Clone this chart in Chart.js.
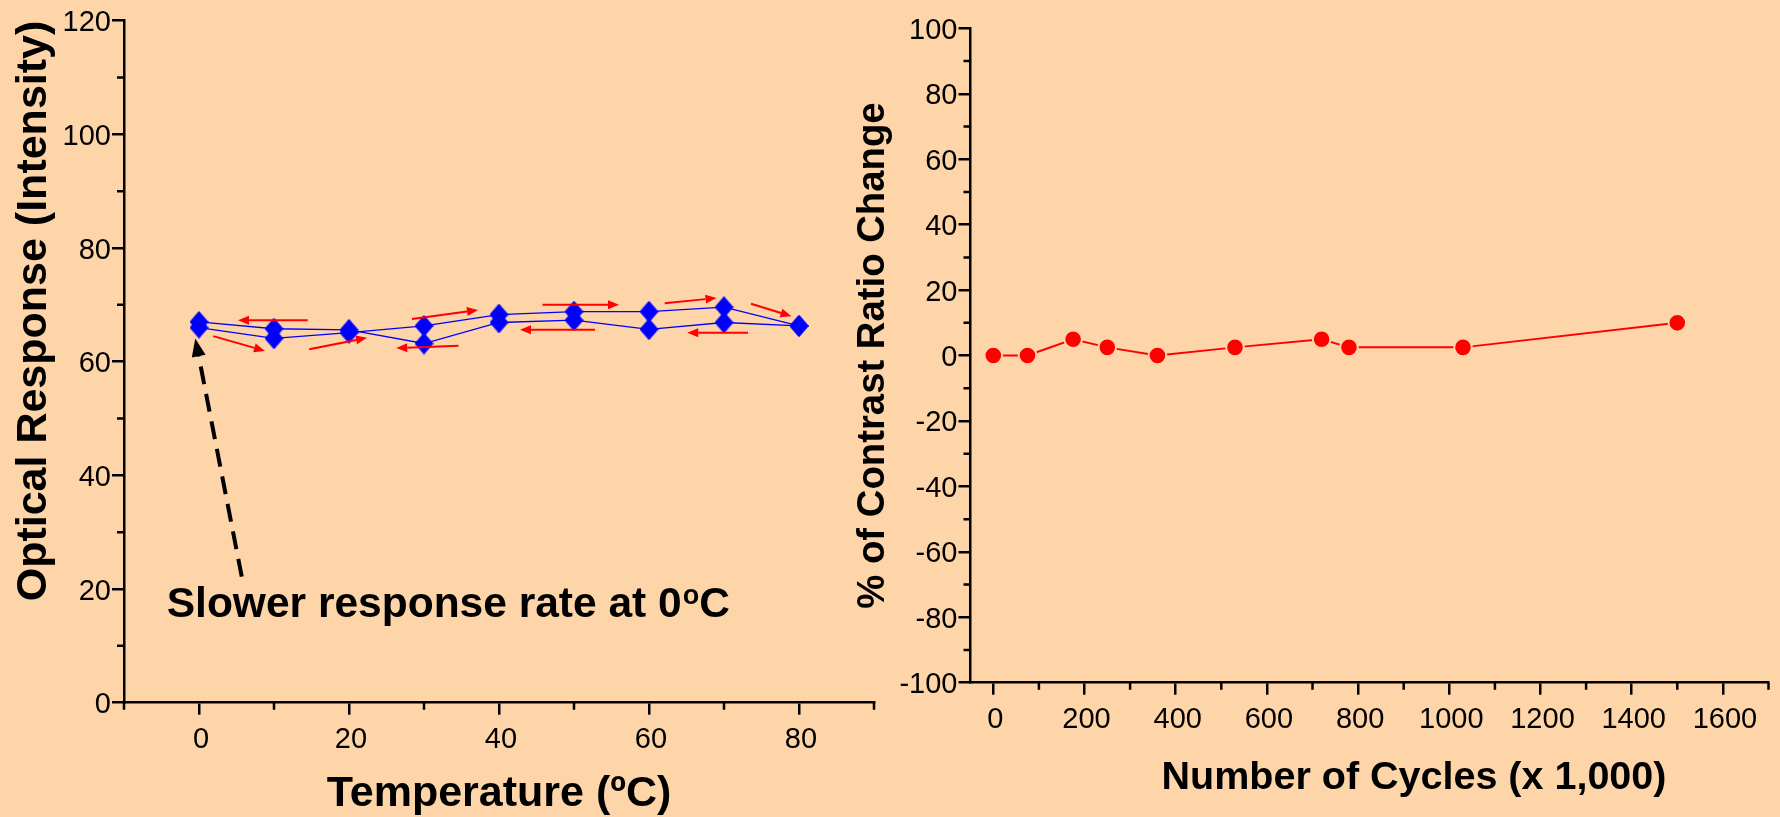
<!DOCTYPE html>
<html>
<head>
<meta charset="utf-8">
<script src="https://cdn.jsdelivr.net/npm/chart.js@4.4.0/dist/chart.umd.min.js"></script>
<style>
  html, body { margin: 0; padding: 0; background: #fed5a9; }
  body { width: 1780px; height: 817px; position: relative; overflow: hidden; }
  #tempChart { position: absolute; left: 0; top: 0; }
  #cycleChart { position: absolute; left: 850px; top: 0; }
</style>
</head>
<body>
<canvas id="tempChart" width="890" height="817"></canvas>
<canvas id="cycleChart" width="930" height="817"></canvas>
<script>
// left chart: optical response vs temperature
var temperatures = [0, 10, 20, 30, 40, 50, 60, 70, 80];
var heatingResponse = [66.0, 64.1, 65.1, 66.3, 68.3, 68.8, 68.8, 69.6, 66.3];
var coolingResponse = [67.0, 65.8, 65.6, 63.2, 66.9, 67.3, 65.7, 66.9, 66.3];
var tempTicks = [0, 20, 40, 60, 80];
var tempMinor = [-10, 10, 30, 50, 70, 90];
var responseMinor = [10, 30, 50, 70, 90, 110];

// red direction arrows, [x1, y1, x2, y2] in data units
var dirArrows = [
  [14.5, 67.3, 5.2, 67.3],
  [1.9, 64.5, 8.8, 61.9],
  [14.7, 62.2, 22.4, 64.2],
  [28.4, 67.5, 37.2, 69.1],
  [34.6, 62.8, 26.3, 62.4],
  [45.8, 70.0, 56.0, 70.0],
  [52.8, 65.6, 42.8, 65.6],
  [62.1, 70.3, 69.0, 71.2],
  [73.2, 65.1, 65.1, 65.1],
  [73.6, 70.2, 79.0, 68.0]
];
var noteArrow = [5.7, 22.2, -0.5, 64.1];
var notePos = [-4.3, 15.1];

// right chart: contrast ratio change vs cycles
var cycles = [0, 75, 175, 250, 360, 530, 720, 780, 1030, 1500];
var contrastChange = [0, 0, 5, 2.5, 0, 2.5, 5, 2.5, 2.5, 10];
var cycleTicks = [0, 200, 400, 600, 800, 1000, 1200, 1400, 1600];
var cycleMinor = [100, 300, 500, 700, 900, 1100, 1300, 1500, 1700];
var contrastMinor = [-90, -70, -50, -30, -10, 10, 30, 50, 70, 90];

var bg = '#fed5a9';
var fam = "'Liberation Sans', Arial, sans-serif";
Chart.defaults.font.family = fam;
Chart.defaults.color = '#000';

function pts(xs, ys) {
  return xs.map(function (x, i) { return {x: x, y: ys[i]}; });
}

function diamond(w, h, color) {
  var c = document.createElement('canvas');
  c.width = w; c.height = h;
  var g = c.getContext('2d');
  g.fillStyle = color;
  g.beginPath();
  g.moveTo(w / 2, 0); g.lineTo(w, h / 2); g.lineTo(w / 2, h); g.lineTo(0, h / 2);
  g.closePath(); g.fill();
  return c;
}

function arrowHead(ctx, x1, y1, x2, y2, len, half) {
  var a = Math.atan2(y2 - y1, x2 - x1);
  var bx = x2 - len * Math.cos(a), by = y2 - len * Math.sin(a);
  ctx.beginPath();
  ctx.moveTo(x2, y2);
  ctx.lineTo(bx + half * Math.sin(a), by - half * Math.cos(a));
  ctx.lineTo(bx - half * Math.sin(a), by + half * Math.cos(a));
  ctx.closePath();
  ctx.fill();
  return [bx, by];
}

var minorTicks = {
  id: 'minorTicks',
  afterDraw: function (chart, args, opts) {
    var ctx = chart.ctx, xs = chart.scales.x, ys = chart.scales.y;
    ctx.save();
    ctx.strokeStyle = '#000';
    ctx.lineWidth = 2.5;
    ctx.beginPath();
    opts.x.forEach(function (v) {
      var px = xs.getPixelForValue(v);
      ctx.moveTo(px, ys.bottom); ctx.lineTo(px, ys.bottom + 7);
    });
    opts.y.forEach(function (v) {
      var py = ys.getPixelForValue(v);
      ctx.moveTo(xs.left, py); ctx.lineTo(xs.left - 7, py);
    });
    ctx.stroke();
    ctx.restore();
  }
};

// x title drawn off-centre like the original
var shiftedTitle = {
  id: 'shiftedTitle',
  afterDraw: function (chart, args, opts) {
    if (!opts.text) return;
    var ctx = chart.ctx, xs = chart.scales.x;
    ctx.save();
    ctx.font = 'bold ' + opts.size + 'px ' + fam;
    ctx.fillStyle = '#000';
    ctx.textAlign = 'center';
    ctx.textBaseline = 'middle';
    ctx.fillText(opts.text, (xs.left + xs.right) / 2 + opts.dx, xs.bottom - opts.up);
    ctx.restore();
  }
};

var notes = {
  id: 'notes',
  afterDatasetsDraw: function (chart) {
    var ctx = chart.ctx, xs = chart.scales.x, ys = chart.scales.y;
    ctx.save();
    // red arrows
    ctx.strokeStyle = '#ff0000';
    ctx.fillStyle = '#ff0000';
    ctx.lineWidth = 2;
    dirArrows.forEach(function (a) {
      var x1 = xs.getPixelForValue(a[0]), y1 = ys.getPixelForValue(a[1]);
      var x2 = xs.getPixelForValue(a[2]), y2 = ys.getPixelForValue(a[3]);
      var b = arrowHead(ctx, x1, y1, x2, y2, 11, 4.5);
      ctx.beginPath(); ctx.moveTo(x1, y1); ctx.lineTo(b[0], b[1]); ctx.stroke();
    });
    // dashed black arrow
    var tx = xs.getPixelForValue(noteArrow[0]), ty = ys.getPixelForValue(noteArrow[1]);
    var hx = xs.getPixelForValue(noteArrow[2]), hy = ys.getPixelForValue(noteArrow[3]);
    ctx.fillStyle = '#000';
    ctx.strokeStyle = '#000';
    var b = arrowHead(ctx, tx, ty, hx, hy, 18, 7);
    ctx.lineWidth = 4;
    ctx.setLineDash([18, 10]);
    ctx.beginPath(); ctx.moveTo(tx, ty); ctx.lineTo(b[0], b[1]); ctx.stroke();
    ctx.setLineDash([]);
    // note text with superscript o
    var nx = xs.getPixelForValue(notePos[0]), ny = ys.getPixelForValue(notePos[1]);
    ctx.textBaseline = 'alphabetic';
    ctx.textAlign = 'left';
    ctx.font = 'bold 42.5px ' + fam;
    var main = 'Slower response rate at 0';
    ctx.fillText(main, nx, ny);
    nx += ctx.measureText(main).width;
    ctx.font = 'bold 27px ' + fam;
    ctx.fillText('o', nx + 1, ny - 13);
    nx += ctx.measureText('o').width + 1;
    ctx.font = 'bold 42.5px ' + fam;
    ctx.fillText('C', nx, ny);
    ctx.restore();
  }
};

var tickFont = {size: 29};
var axisBorder = {color: '#000', width: 2.5};
var axisGrid = {drawOnChartArea: false, tickLength: 12, color: '#000', lineWidth: 2.5};

new Chart(document.getElementById('tempChart'), {
  type: 'scatter',
  data: {
    datasets: [{
      label: 'Heating',
      data: pts(temperatures, heatingResponse),
      showLine: true,
      borderColor: '#0000ff',
      borderWidth: 1.3,
      pointStyle: diamond(19, 22, '#0000ff'),
      pointRadius: 10
    }, {
      label: 'Cooling',
      data: pts(temperatures, coolingResponse),
      showLine: true,
      borderColor: '#0000ff',
      borderWidth: 1.3,
      pointStyle: diamond(19, 22, '#0000ff'),
      pointRadius: 10
    }]
  },
  options: {
    responsive: false,
    animation: false,
    layout: {padding: {top: 20.7, right: 16, left: 0, bottom: 0}},
    plugins: {
      legend: {display: false},
      tooltip: {enabled: false},
      minorTicks: {x: tempMinor, y: responseMinor}
    },
    scales: {
      x: {
        type: 'linear', min: -10, max: 90,
        afterBuildTicks: function (s) { s.ticks = tempTicks.map(function (v) { return {value: v}; }); },
        afterFit: function (s) { s.height = 114.3; },
        border: axisBorder,
        grid: axisGrid,
        ticks: {font: tickFont, padding: 8, maxRotation: 0, autoSkip: false, labelOffset: 2},
        title: {display: true, text: 'Temperature (ºC)', font: {size: 43, weight: 'bold', lineHeight: 1}, padding: {top: 0, bottom: 1}}
      },
      y: {
        min: 0, max: 120,
        afterFit: function (s) { s.width = 124; },
        border: axisBorder,
        grid: axisGrid,
        ticks: {stepSize: 20, font: tickFont, padding: 1, labelOffset: 2.5},
        title: {display: true, text: 'Optical Response (Intensity)', align: 'end', font: {size: 43, weight: 'bold', lineHeight: 1}, padding: {top: 12.5, bottom: 0}}
      }
    }
  },
  plugins: [minorTicks, notes]
});

new Chart(document.getElementById('cycleChart'), {
  type: 'scatter',
  data: {
    datasets: [{
      label: 'Contrast ratio change',
      data: pts(cycles, contrastChange),
      showLine: true,
      borderColor: '#ff0000',
      borderWidth: 2,
      pointBackgroundColor: '#ff0000',
      pointBorderColor: bg,
      pointBorderWidth: 2,
      pointRadius: 8.8
    }]
  },
  options: {
    responsive: false,
    animation: false,
    layout: {padding: {top: 28.4, right: 11.5, left: 0, bottom: 0}},
    plugins: {
      legend: {display: false},
      tooltip: {enabled: false},
      minorTicks: {x: cycleMinor, y: contrastMinor},
      shiftedTitle: {text: 'Number of Cycles (x 1,000)', size: 39.5, dx: 44.5, up: 39}
    },
    scales: {
      x: {
        type: 'linear', min: -50, max: 1700,
        afterBuildTicks: function (s) { s.ticks = cycleTicks.map(function (v) { return {value: v}; }); },
        afterFit: function (s) { s.height = 134.3; },
        border: axisBorder,
        grid: axisGrid,
        ticks: {font: tickFont, padding: 8, maxRotation: 0, autoSkip: false, labelOffset: 2,
          callback: function (v) { return String(v); }},
        title: {display: false}
      },
      y: {
        min: -100, max: 100,
        afterFit: function (s) { s.width = 120.5; },
        border: axisBorder,
        grid: axisGrid,
        ticks: {stepSize: 20, font: tickFont, padding: 1, labelOffset: 2.5,
          callback: function (v) { return String(v); }},
        title: {display: true, text: '% of Contrast Ratio Change', font: {size: 38.3, weight: 'bold', lineHeight: 1}, padding: {top: 4.3, bottom: 0}}
      }
    }
  },
  plugins: [minorTicks, shiftedTitle]
});
</script>
</body>
</html>
